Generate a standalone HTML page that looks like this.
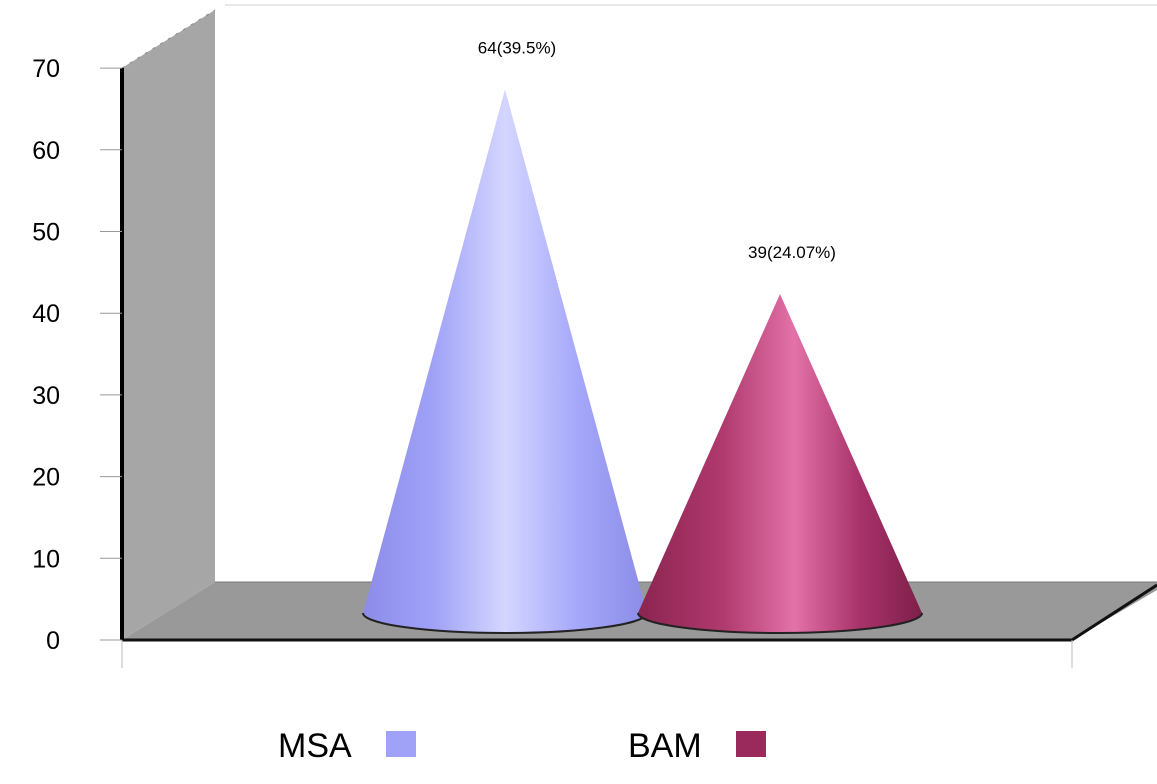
<!DOCTYPE html>
<html><head><meta charset="utf-8"><style>
body{margin:0;background:#fff}
svg{display:block;font-family:"Liberation Sans",sans-serif}
</style></head><body>
<svg id="chart" width="1157" height="784" viewBox="0 0 1157 784">
<defs>
<linearGradient id="gMSA" x1="0" x2="1" y1="0" y2="0">
<stop offset="0" stop-color="#8c8ce8"/><stop offset="0.25" stop-color="#a0a2f8"/><stop offset="0.5" stop-color="#d4d6ff"/><stop offset="0.75" stop-color="#a6a8fb"/><stop offset="1" stop-color="#8a8ce6"/>
</linearGradient>
<linearGradient id="gBAM" x1="0" x2="1" y1="0" y2="0">
<stop offset="0" stop-color="#8a2450"/><stop offset="0.3" stop-color="#b03a6e"/><stop offset="0.55" stop-color="#e272a8"/><stop offset="0.78" stop-color="#a8336a"/><stop offset="1" stop-color="#7e1f49"/>
</linearGradient>
</defs>
<polygon points="122,68 215,10 215,582 122,640" fill="#a6a6a6"/>
<polyline points="122,68 215,10" stroke="#888" stroke-dasharray="3,6" fill="none"/>
<line x1="225" y1="5" x2="1157" y2="5" stroke="#e8e8e8" stroke-width="2"/>
<polygon points="122,640 215,582 1157,582 1157,590 1072,640" fill="#999"/>
<line x1="215" y1="582" x2="1157" y2="582" stroke="#777" stroke-width="1"/>
<polyline points="122,640 1072,640 1157,585" stroke="#111" stroke-width="3" fill="none"/>
<line x1="122" y1="68" x2="122" y2="640" stroke="#000" stroke-width="4"/>
<line x1="122" y1="640" x2="122" y2="668" stroke="#bbb"/>
<line x1="1072" y1="640" x2="1072" y2="668" stroke="#bbb"/>
<g id="ticks"></g>
<g id="cones"></g>
<g id="legend"></g>
</svg>
<script>
const categories=["MSA","BAM"];
const values=[64,39];
const labels=["64(39.5%)","39(24.07%)"];
const yTicks=[0,10,20,30,40,50,60,70];
const NS="http://www.w3.org/2000/svg";
const svg=document.getElementById('chart');
function y(v){return 640-v*8.17;}
function coneY(v){return 613-v*8.18;}
const cx=[505,780];
const fills=["url(#gMSA)","url(#gBAM)"];
const legColors=["#a0a2f8","#9a2a5c"];
function mk(t,a,p){const e=document.createElementNS(NS,t);for(const k in a)e.setAttribute(k,a[k]);(p||svg).appendChild(e);return e;}
const tg=document.getElementById('ticks');
yTicks.forEach(v=>{
 const l=mk('line',{x1:100,x2:122,y1:y(v),y2:y(v),stroke:'#999'},tg);
 
 
 const t=mk('text',{x:60,y:y(v)+9,'text-anchor':'end','font-size':25,fill:'#000'},tg);
 t.textContent=v;
 
 
});
const cg=document.getElementById('cones');
values.forEach((v,i)=>{
 const x=cx[i],by=613,rx=142,ry=20,ay=coneY(v);
 const p=mk('path',{d:`M${x-rx},${by} L${x},${ay} L${x+rx},${by} A${rx},${ry} 0 0 1 ${x-rx},${by} Z`,fill:fills[i]},cg);
 
 
 const e=mk('path',{d:`M${x-rx},${by} A${rx},${ry} 0 0 0 ${x+rx},${by}`,fill:'none',stroke:'#222','stroke-width':2},cg);
 
 
 const t=mk('text',{x:x+12,y:ay-36,'text-anchor':'middle','font-size':17,fill:'#000'},cg);
 t.textContent=labels[i];
 
 
});
const lg=document.getElementById('legend');
const lx=[278,628];
categories.forEach((c,i)=>{
 const t=mk('text',{x:lx[i],y:757,'font-size':34,fill:'#000'},lg);
 t.textContent=c;
 
 
 const r=mk('rect',{x:lx[i]+108,y:731,width:30,height:26,fill:legColors[i]},lg);
 
 
});
</script>
</body></html>
